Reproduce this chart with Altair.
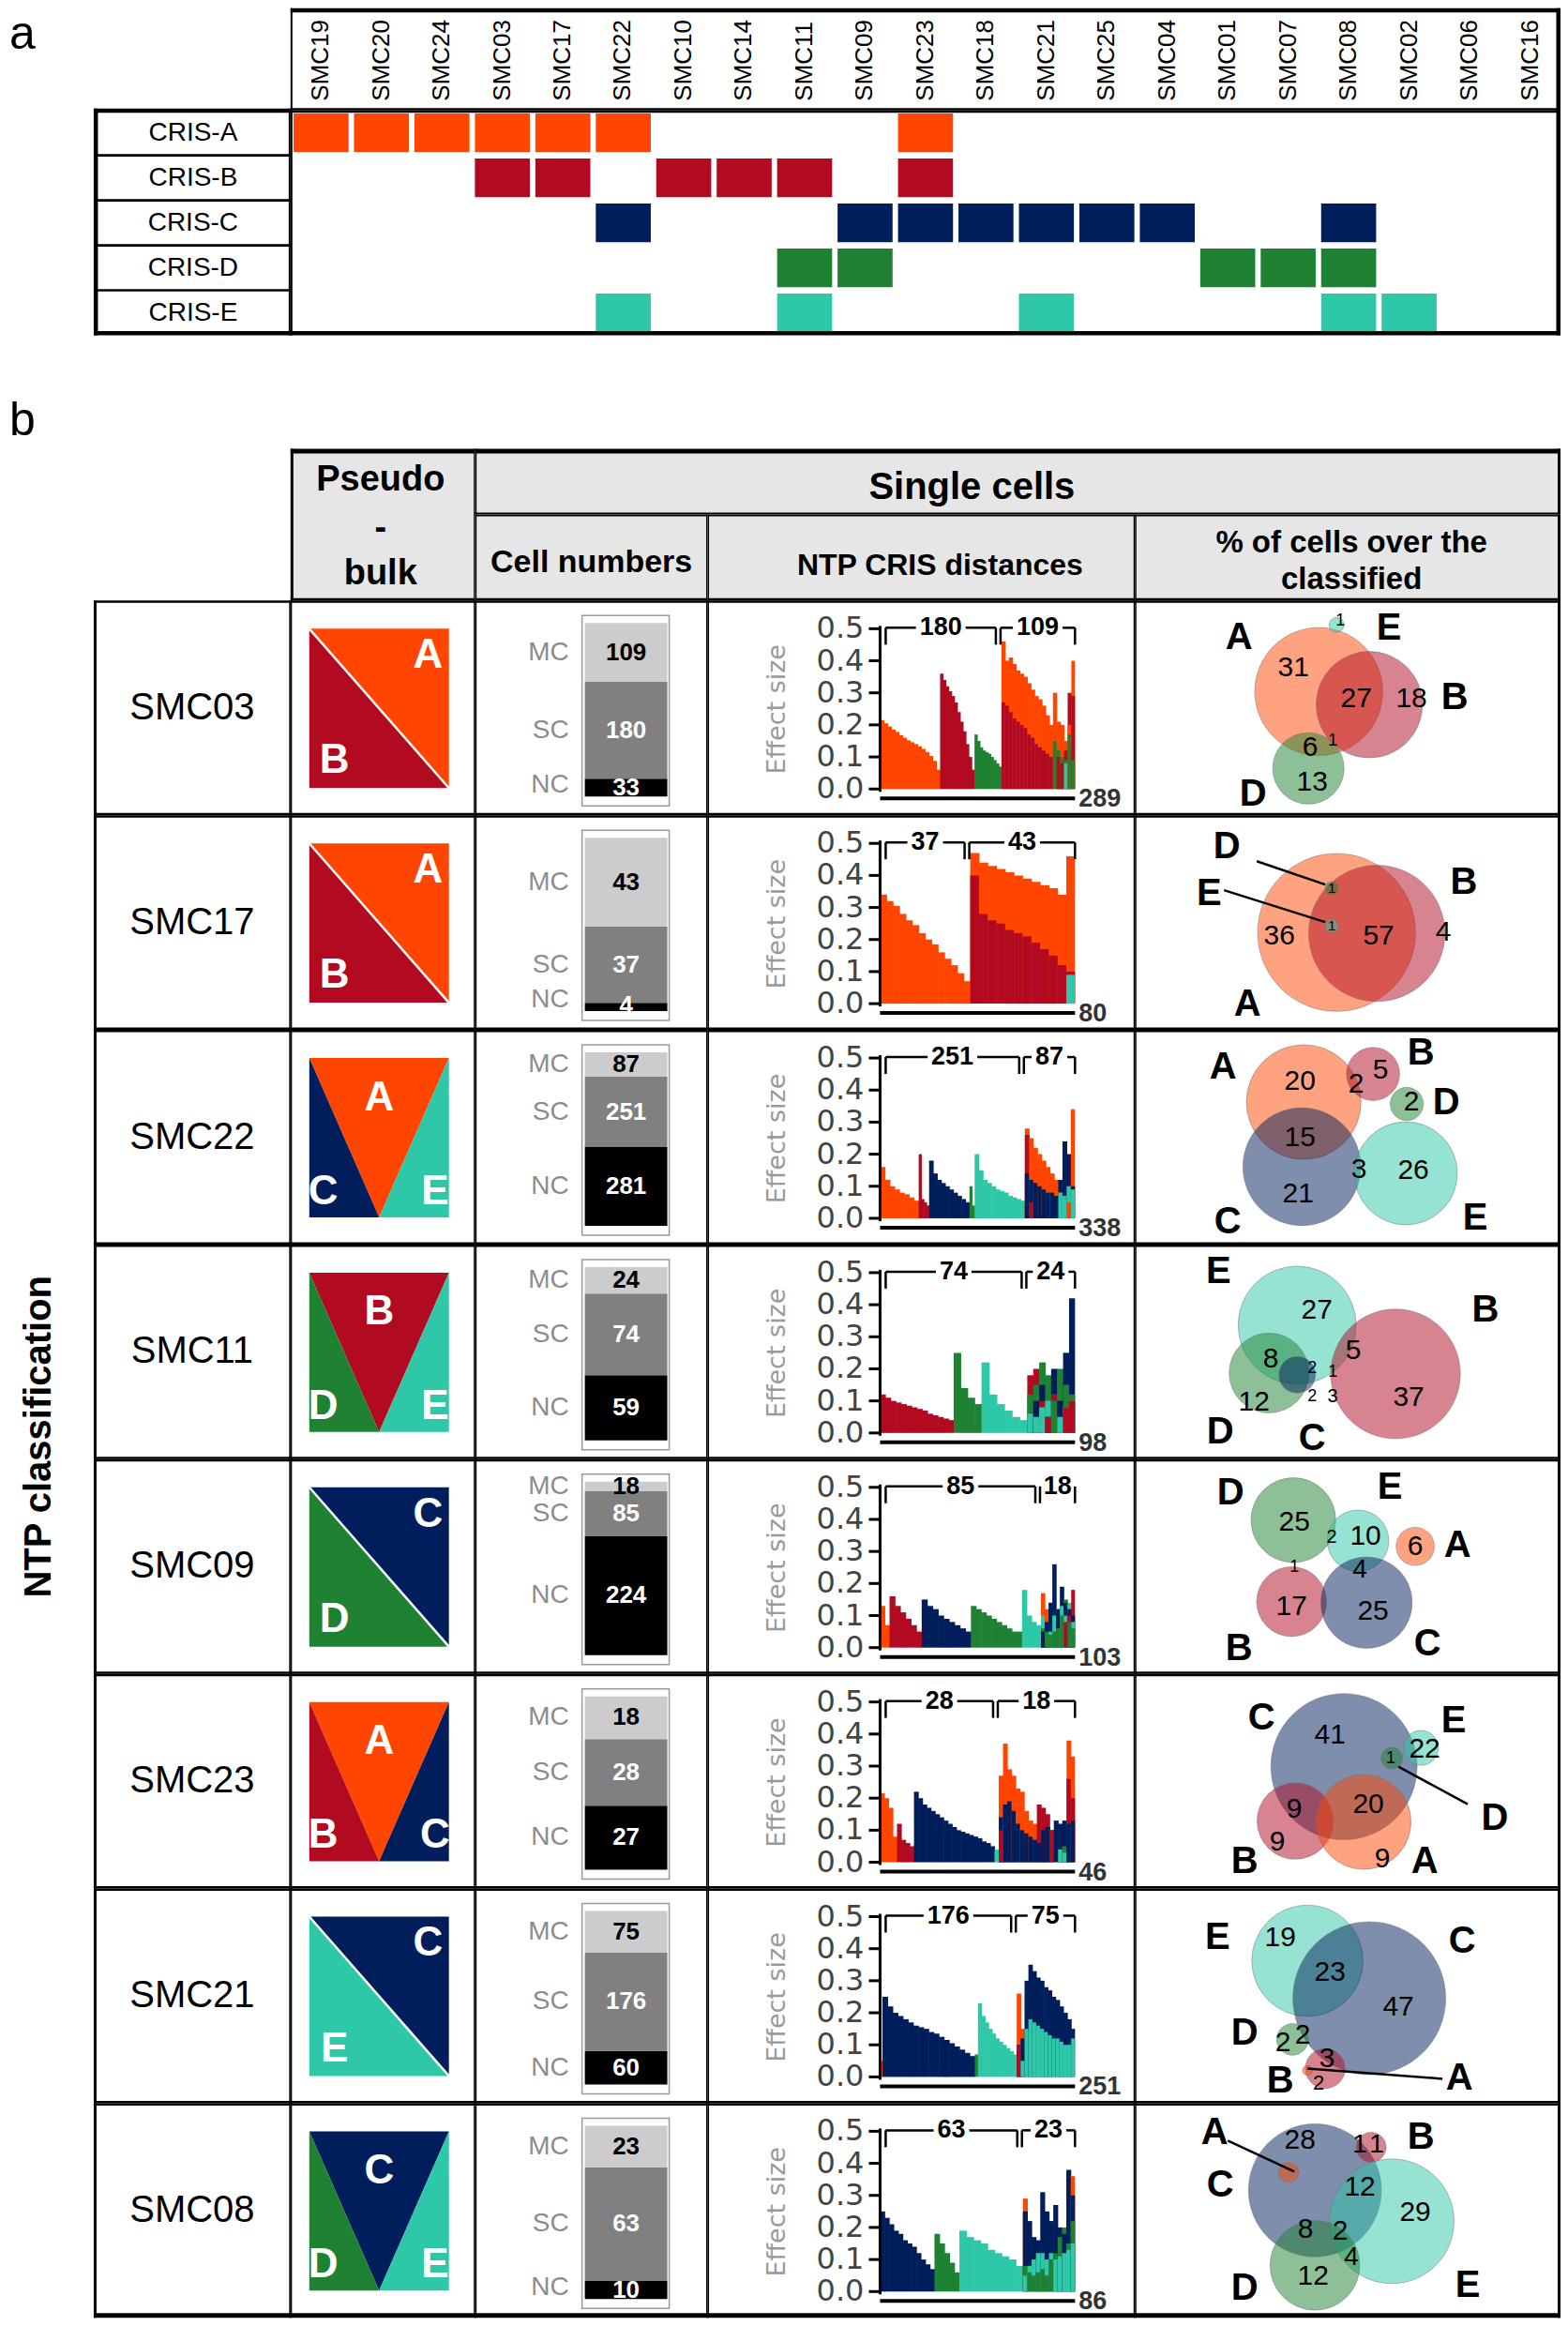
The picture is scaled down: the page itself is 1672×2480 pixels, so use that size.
import math
import altair as alt
import pandas as pd

FONT = "Liberation Sans"
WIDE_FONT = "DejaVu Sans"
CLASSES = ["A", "B", "C", "D", "E"]

BAR_COLORS = ["#FF2A00", "#A3001E", "#03164E", "#1B7A2A", "#1FC29C"]
HEAT_COLORS = ["#FF4500", "#B10A21", "#001E5B", "#1E8232", "#2EC8A8"]
PB_COLORS = ["#FF2A00", "#A0001B", "#031A50", "#1D7A2E", "#2EC8A4"]
VENN_COLORS = ["#F42C12", "#A0001B", "#02185A", "#1D7A2E", "#2EC8A4"]
HEADER_FILL = "#E6E6E6"

# ---------------- panel a data ----------------
SAMPLES_A = ["SMC19", "SMC20", "SMC24", "SMC03", "SMC17", "SMC22", "SMC10", "SMC14",
             "SMC11", "SMC09", "SMC23", "SMC18", "SMC21", "SMC25", "SMC04", "SMC01",
             "SMC07", "SMC08", "SMC02", "SMC06", "SMC16"]
CRIS_ROWS = ["CRIS-A", "CRIS-B", "CRIS-C", "CRIS-D", "CRIS-E"]
CRIS_A_SAMPLES = ["SMC19", "SMC20", "SMC24", "SMC03", "SMC17", "SMC22", "SMC23"]
CRIS_B_SAMPLES = ["SMC03", "SMC17", "SMC10", "SMC14", "SMC11", "SMC23"]
CRIS_C_SAMPLES = ["SMC22", "SMC09", "SMC23", "SMC18", "SMC21", "SMC25", "SMC04", "SMC08"]
CRIS_D_SAMPLES = ["SMC11", "SMC09", "SMC01", "SMC07", "SMC08"]
CRIS_E_SAMPLES = ["SMC22", "SMC11", "SMC21", "SMC08", "SMC02"]

# ---------------- panel b data ----------------
SAMPLES_B = ["SMC03", "SMC17", "SMC22", "SMC11", "SMC09", "SMC23", "SMC21", "SMC08"]
PSEUDO_BULK = [["A", "B"], ["A", "B"], ["A", "C", "E"], ["B", "D", "E"],
               ["C", "D"], ["A", "B", "C"], ["C", "E"], ["C", "D", "E"]]
CELLS_MC = [109, 43, 87, 24, 18, 18, 75, 23]
CELLS_SC = [180, 37, 251, 74, 85, 28, 176, 63]
CELLS_NC = [33, 4, 281, 59, 224, 27, 60, 10]

# effect sizes: single-class segments (class, number of cells, values read along the segment)
EFF_SC_SMC03 = [("A", 89, [0.215, 0.205, 0.195, 0.185, 0.178, 0.168, 0.16, 0.152, 0.146, 0.14, 0.133, 0.125, 0.115, 0.103, 0.088, 0.06]),
                ("B", 51, [0.36, 0.34, 0.32, 0.305, 0.29, 0.27, 0.24, 0.21, 0.18, 0.14, 0.10, 0.06]),
                ("D", 40, [0.17, 0.15, 0.13, 0.12, 0.115, 0.11, 0.10, 0.09, 0.08, 0.07])]
EFF_MC_SMC03 = [("A", [0.46, 0.40, 0.41, 0.39, 0.37, 0.36, 0.35, 0.33, 0.31, 0.29, 0.28, 0.26, 0.23, 0.20, 0.30, 0.21, 0.20, 0.15, 0.20, 0.40]),
                ("B", [0.27, 0.26, 0.24, 0.22, 0.21, 0.20, 0.19, 0.17, 0.16, 0.14, 0.13, 0.12, 0.11, 0.10, 0.0, 0.10, 0.08, 0.12, 0.30, 0.29]),
                ("D", [0, 0, 0, 0, 0, 0, 0, 0, 0, 0, 0, 0, 0, 0, 0.15, 0.12, 0.10, 0.09, 0.17, 0.09]),
                ("E", [0, 0, 0, 0, 0, 0, 0, 0, 0, 0, 0, 0, 0, 0, 0, 0, 0, 0.08, 0, 0])]

EFF_SC_SMC17 = [("A", 37, [0.34, 0.32, 0.305, 0.28, 0.26, 0.245, 0.22, 0.20, 0.185, 0.16, 0.14, 0.12, 0.095, 0.07])]
EFF_MC_SMC17 = [("A", [0.47, 0.44, 0.43, 0.42, 0.41, 0.40, 0.39, 0.38, 0.37, 0.36, 0.34, 0.46]),
                ("B", [0.40, 0.28, 0.26, 0.25, 0.23, 0.22, 0.21, 0.19, 0.17, 0.15, 0.12, 0.10]),
                ("E", [0, 0, 0, 0, 0, 0, 0, 0, 0, 0, 0, 0.09])]

EFF_SC_SMC22 = [("A", 67, [0.16, 0.12, 0.10, 0.09, 0.08, 0.075, 0.065, 0.055]),
                ("B", 18, [0.20, 0.06, 0.05, 0.04]),
                ("C", 70, [0.18, 0.14, 0.12, 0.11, 0.10, 0.09, 0.08, 0.07, 0.06, 0.05]),
                ("D", 9, [0.10, 0.04]),
                ("E", 87, [0.20, 0.15, 0.12, 0.11, 0.10, 0.09, 0.085, 0.08, 0.07, 0.065, 0.06, 0.055])]
EFF_MC_SMC22 = [("A", [0.28, 0.25, 0.22, 0.20, 0.18, 0.16, 0.14, 0.12, 0.0, 0.0, 0.05, 0.34]),
                ("B", [0.26, 0.05, 0, 0, 0, 0, 0, 0, 0, 0, 0, 0]),
                ("C", [0.14, 0.12, 0.11, 0.10, 0.09, 0.08, 0.08, 0.07, 0.12, 0.24, 0.20, 0.10]),
                ("E", [0, 0, 0, 0, 0, 0, 0, 0, 0.08, 0.07, 0.10, 0.09])]

EFF_SC_SMC11 = [("B", 37, [0.12, 0.11, 0.10, 0.095, 0.09, 0.085, 0.08, 0.075, 0.07, 0.06, 0.055, 0.05, 0.045, 0.04]),
                ("D", 14, [0.25, 0.14, 0.11, 0.09]),
                ("E", 23, [0.22, 0.12, 0.09, 0.07, 0.05, 0.04])]
EFF_MC_SMC11 = [("B", [0.18, 0.20, 0.10, 0.05, 0.12, 0.0, 0.08, 0.10]),
                ("D", [0.12, 0.15, 0.22, 0.18, 0.10, 0.20, 0.15, 0.12]),
                ("C", [0, 0.10, 0.15, 0.05, 0.20, 0.10, 0.25, 0.42]),
                ("E", [0.06, 0.05, 0.08, 0.10, 0.12, 0.05, 0.08, 0.10])]

EFF_SC_SMC09 = [("A", 5, [0.13, 0.07]),
                ("B", 17, [0.16, 0.13, 0.11, 0.09, 0.07, 0.05]),
                ("C", 26, [0.15, 0.13, 0.12, 0.10, 0.09, 0.08, 0.07, 0.06, 0.05]),
                ("D", 27, [0.13, 0.12, 0.11, 0.10, 0.09, 0.08, 0.07, 0.06, 0.05, 0.05]),
                ("E", 10, [0.18, 0.10, 0.08, 0.07])]
EFF_MC_SMC09 = [("A", [0.17, 0.12, 0, 0, 0, 0, 0, 0, 0]),
                ("C", [0.05, 0.08, 0.14, 0.26, 0.12, 0.19, 0.14, 0.12, 0.10]),
                ("E", [0.10, 0.08, 0.05, 0.10, 0.12, 0.13, 0.10, 0.14, 0.08]),
                ("D", [0.06, 0.05, 0.04, 0.05, 0.06, 0.10, 0.15, 0.08, 0.06]),
                ("B", [0, 0, 0, 0, 0, 0, 0.08, 0.10, 0.18])]

EFF_SC_SMC23 = [("A", 4, [0.215, 0.20, 0.17, 0.08]),
                ("B", 4, [0.12, 0.07, 0.06, 0.05]),
                ("C", 19, [0.22, 0.20, 0.18, 0.17, 0.16, 0.15, 0.14, 0.13, 0.12, 0.11, 0.10, 0.095, 0.09, 0.085, 0.08, 0.075, 0.065, 0.06, 0.05]),
                ("E", 1, [0.04])]
EFF_MC_SMC23 = [("A", [0.27, 0.37, 0.29, 0.27, 0.23, 0.22, 0.16, 0.13, 0.12, 0, 0, 0, 0, 0, 0, 0, 0.38, 0.33]),
                ("C", [0.14, 0.18, 0.19, 0.16, 0.12, 0.10, 0.09, 0.08, 0.07, 0.06, 0.10, 0.11, 0.10, 0.13, 0.12, 0.13, 0.12, 0.13]),
                ("B", [0.10, 0, 0, 0, 0, 0, 0, 0, 0, 0.18, 0.17, 0.15, 0.10, 0, 0, 0, 0.26, 0.20]),
                ("E", [0, 0, 0, 0, 0, 0, 0, 0, 0, 0, 0, 0, 0, 0, 0.04, 0.03, 0, 0]),
                ("D", [0, 0, 0, 0, 0, 0, 0, 0, 0, 0, 0, 0, 0, 0, 0, 0.05, 0, 0])]

EFF_SC_SMC21 = [("A", 3, [0.05]),
                ("C", 119, [0.25, 0.22, 0.20, 0.19, 0.18, 0.17, 0.16, 0.155, 0.15, 0.14, 0.135, 0.125, 0.115, 0.105, 0.095, 0.085, 0.075, 0.065]),
                ("D", 4, [0.07]),
                ("E", 50, [0.23, 0.19, 0.17, 0.15, 0.135, 0.12, 0.11, 0.10, 0.09, 0.08, 0.07])]
EFF_MC_SMC21 = [("C", [0.10, 0.12, 0.30, 0.35, 0.33, 0.31, 0.30, 0.28, 0.27, 0.25, 0.24, 0.22, 0.20, 0.18, 0.15]),
                ("E", [0.0, 0.05, 0.15, 0.18, 0.17, 0.16, 0.15, 0.14, 0.13, 0.12, 0.12, 0.11, 0.10, 0.10, 0.12]),
                ("A", [0.26, 0.15, 0, 0, 0, 0, 0, 0, 0, 0, 0, 0, 0, 0, 0]),
                ("B", [0.10, 0, 0, 0, 0, 0, 0, 0, 0, 0, 0, 0, 0, 0, 0])]

EFF_SC_SMC08 = [("C", 24, [0.25, 0.23, 0.21, 0.19, 0.18, 0.16, 0.15, 0.14, 0.12, 0.10, 0.085, 0.07]),
                ("D", 11, [0.18, 0.15, 0.12, 0.09, 0.06]),
                ("E", 28, [0.19, 0.17, 0.16, 0.15, 0.13, 0.12, 0.11, 0.10, 0.08])]
EFF_MC_SMC08 = [("C", [0.25, 0.22, 0.17, 0.16, 0.31, 0.25, 0.22, 0.27, 0.20, 0.18, 0.38, 0.30]),
                ("E", [0.05, 0.08, 0.10, 0.12, 0.12, 0.10, 0.12, 0.10, 0.11, 0.12, 0.13, 0.15]),
                ("D", [0.08, 0.06, 0.05, 0.06, 0.07, 0.05, 0.10, 0.12, 0.17, 0.20, 0.15, 0.22]),
                ("A", [0.29, 0, 0, 0, 0, 0, 0, 0, 0, 0, 0, 0.36])]

EFF_SC = [EFF_SC_SMC03, EFF_SC_SMC17, EFF_SC_SMC22, EFF_SC_SMC11,
          EFF_SC_SMC09, EFF_SC_SMC23, EFF_SC_SMC21, EFF_SC_SMC08]
EFF_MC = [EFF_MC_SMC03, EFF_MC_SMC17, EFF_MC_SMC22, EFF_MC_SMC11,
          EFF_MC_SMC09, EFF_MC_SMC23, EFF_MC_SMC21, EFF_MC_SMC08]

# Venn: numbers shown in each region
VENN_NUMBERS = {
    "SMC03": [31, 27, 18, 6, 1, 13, 1],
    "SMC17": [36, 57, 4, 1, 1],
    "SMC22": [20, 2, 5, 2, 15, 3, 26, 21],
    "SMC11": [27, 5, 37, 8, 12, 2, 1, 2, 3],
    "SMC09": [25, 2, 10, 6, 1, 4, 17, 25],
    "SMC23": [41, 22, 1, 9, 20, 9, 9],
    "SMC21": [19, 23, 47, 2, 2, 3, 2],
    "SMC08": [28, 1, 1, 12, 29, 8, 2, 4, 12],
}

# ---------------- layout (pixel geometry) ----------------
VENN_CIRCLES = {
    "SMC03": [("A", 196, 97, 77), ("B", 250, 111, 64), ("D", 185, 179, 43), ("E", 215, 26, 9)],
    "SMC17": [("A", 215, 125, 95), ("B", 258, 126, 82), ("D", 210, 78, 8), ("E", 210, 118, 8)],
    "SMC22": [("A", 180, 77, 69), ("C", 178, 146, 71), ("B", 254, 47, 32), ("D", 290, 79, 20), ("E", 289, 153, 62)],
    "SMC11": [("E", 173, 86, 71), ("B", 278, 138, 78), ("D", 143, 137, 48), ("C", 173, 139, 22)],
    "SMC09": [("D", 169, 65, 51), ("E", 238, 87, 37), ("A", 299, 93, 23), ("B", 167, 152, 42), ("C", 247, 153, 55)],
    "SMC23": [("C", 223, 99, 88), ("E", 305, 79, 21), ("D", 274, 90, 13), ("B", 171, 157, 46), ("A", 244, 158, 57)],
    "SMC21": [("E", 184, 77, 67), ("C", 250, 117, 92), ("D", 168, 161, 19), ("B", 203, 192, 24), ("A", 184, 194, 6)],
    "SMC08": [("C", 192, 93, 80), ("B", 252, 47, 18), ("E", 274, 126, 75), ("D", 192, 173, 54), ("A", 164, 74, 12)],
}
VENN_NUMBER_POS = {
    "SMC03": [(169, 72, 30), (236, 105, 30), (295, 105, 30), (187, 157, 30), (211, 150, 18), (189, 194, 30), (219, 22, 18)],
    "SMC17": [(154, 129, 30), (260, 129, 30), (329, 125, 30), (210, 78, 15), (210, 118, 15)],
    "SMC22": [(176, 55, 30), (236, 58, 30), (262, 43, 30), (295, 77, 30), (176, 115, 30), (239, 149, 30), (297, 150, 30), (174, 175, 30)],
    "SMC11": [(194, 70, 30), (233, 113, 30), (292, 163, 30), (145, 122, 30), (127, 168, 30), (189, 132, 18), (211, 136, 18), (189, 162, 18), (211, 162, 20)],
    "SMC09": [(170, 67, 30), (210, 83, 20), (246, 82, 30), (299, 93, 30), (170, 115, 18), (240, 118, 28), (167, 157, 30), (254, 162, 30)],
    "SMC23": [(208, 65, 30), (309, 80, 30), (273, 90, 18), (170, 144, 30), (249, 139, 30), (152, 179, 30), (264, 197, 30)],
    "SMC21": [(155, 53, 30), (208, 90, 30), (281, 127, 30), (158, 165, 30), (179, 157, 30), (205, 182, 30), (196, 208, 22)],
    "SMC08": [(176, 40, 30), (240, 45, 28), (258, 45, 28), (240, 90, 30), (299, 117, 30), (182, 135, 30), (219, 137, 30), (231, 165, 28), (190, 185, 30)],
}
VENN_LABEL_POS = {
    "SMC03": [("A", 111, 40), ("E", 271, 30), ("B", 341, 104), ("D", 126, 207)],
    "SMC17": [("D", 98, 34), ("E", 79, 84), ("B", 351, 72), ("A", 120, 202)],
    "SMC22": [("A", 94, 40), ("B", 305, 25), ("D", 332, 78), ("C", 99, 205), ("E", 363, 201)],
    "SMC11": [("E", 89, 29), ("B", 374, 70), ("D", 91, 200), ("C", 189, 207)],
    "SMC09": [("D", 102, 36), ("E", 272, 30), ("A", 344, 92), ("B", 111, 202), ("C", 312, 197)],
    "SMC23": [("C", 135, 47), ("E", 340, 50), ("D", 384, 154), ("B", 117, 200), ("A", 309, 200)],
    "SMC21": [("E", 88, 53), ("C", 349, 57), ("D", 117, 155), ("B", 155, 206), ("A", 346, 203)],
    "SMC08": [("A", 85, 32), ("B", 305, 37), ("C", 91, 88), ("D", 117, 198), ("E", 355, 195)],
}
VENN_LEADERS = {
    "SMC17": [(130, 49, 203, 74), (95, 80, 203, 114)],
    "SMC23": [(281, 99, 355, 139)],
    "SMC21": [(184, 192, 328, 203)],
    "SMC08": [(99, 40, 170, 73)],
}

LEFT_W, NAME_W, PB_W, CN_W, EFF_W, VENN_W = 92, 210, 197, 248, 456, 454
ROW_H = 229
A_HDR_H, A_ROWS_H = 109, 240
HEAT_W = 1355
GAP_H = 121
B_HDR1_H, B_HDR2_H = 70, 92


def sx(lo, hi):
    return alt.Scale(domain=[lo, hi], nice=False, zero=False)


def ident(v):
    return v


def texts(rows, xs, ys, **mk):
    df = pd.DataFrame(rows)
    props = dict(font=FONT)
    props.update(mk)
    enc = dict(x=alt.X("x:Q", scale=xs, axis=None), y=alt.Y("y:Q", scale=ys, axis=None),
               text=alt.Text("t:N"))
    if "fs" in df.columns:
        enc["size"] = alt.Size("fs:Q", scale=None, legend=None)
    return alt.Chart(df).mark_text(**props).encode(**enc)


def rules(rows, xs, ys, **mk):
    df = pd.DataFrame(rows)
    enc = dict(x=alt.X("x:Q", scale=xs, axis=None), y=alt.Y("y:Q", scale=ys, axis=None))
    if "x2" in df.columns:
        enc["x2"] = "x2:Q"
    if "y2" in df.columns:
        enc["y2"] = "y2:Q"
    return alt.Chart(df).mark_rule(**mk).encode(**enc)


def rects(rows, xs, ys, color_range=None, **mk):
    df = pd.DataFrame(rows)
    enc = dict(x=alt.X("x:Q", scale=xs, axis=None), x2="x2:Q",
               y=alt.Y("y:Q", scale=ys, axis=None), y2="y2:Q")
    if color_range is not None:
        enc["color"] = alt.Color("c:N", scale=alt.Scale(domain=CLASSES, range=color_range), legend=None)
    return alt.Chart(df).mark_rect(**mk).encode(**enc)


def border(W, H, t, xs, ys, fx=ident, fy=ident):
    """filled black strips along the inside edges of a cell: t = (top, right, bottom, left) px"""
    top, right, bottom, left = t
    rows = []
    if top:
        rows.append({"x": fx(0), "x2": fx(W), "y": fy(0), "y2": fy(top)})
    if bottom:
        rows.append({"x": fx(0), "x2": fx(W), "y": fy(H - bottom), "y2": fy(H)})
    if left:
        rows.append({"x": fx(0), "x2": fx(left), "y": fy(0), "y2": fy(H)})
    if right:
        rows.append({"x": fx(W - right), "x2": fx(W), "y": fy(0), "y2": fy(H)})
    return rects(rows, xs, ys, fill="black")


def blank(w, h):
    return alt.Chart(pd.DataFrame({"x": [0]})).mark_rect(opacity=0).encode(
        x=alt.value(0), x2=alt.value(w), y=alt.value(0), y2=alt.value(h)).properties(width=w, height=h)


# ---------------- panel a ----------------
def panel_a():
    W = LEFT_W + NAME_W
    H = A_HDR_H + A_ROWS_H
    xs, ys = sx(0, W), sx(H, 0)
    rh = A_ROWS_H / len(CRIS_ROWS)
    lines = [{"x": LEFT_W, "x2": W, "y": A_HDR_H - 2, "y2": A_HDR_H + 2.5},
             {"x": LEFT_W, "x2": W, "y": H - 4.5, "y2": H},
             {"x": LEFT_W, "x2": LEFT_W + 4.5, "y": A_HDR_H - 2, "y2": H},
             {"x": W - 2, "x2": W, "y": A_HDR_H - 2, "y2": H}]
    for i in range(1, len(CRIS_ROWS)):
        yy = A_HDR_H + i * rh
        lines.append({"x": LEFT_W, "x2": W, "y": yy - 1.3, "y2": yy + 1.3})
    left = alt.layer(
        rects(lines, xs, ys, fill="black"),
        texts([{"x": LEFT_W + NAME_W / 2 + 1, "y": A_HDR_H + (i + 0.5) * rh, "t": r}
               for i, r in enumerate(CRIS_ROWS)], xs, ys, fontSize=28, baseline="middle"),
        texts([{"x": 2, "y": 43, "t": "a"}], xs, ys, fontSize=50, align="left", baseline="alphabetic"),
    ).properties(width=W, height=H)

    xband = alt.Scale(domain=SAMPLES_A, paddingInner=0.09, paddingOuter=0.05)
    hxs, hys = sx(0, HEAT_W), sx(A_HDR_H, 0)
    hdr_text = alt.Chart(pd.DataFrame({"sample": SAMPLES_A})).mark_text(
        font=FONT, fontSize=26, angle=270, align="left", baseline="middle").encode(
        x=alt.X("sample:N", scale=xband, axis=None), y=alt.value(A_HDR_H - 10),
        text="sample:N")
    hdr = alt.layer(hdr_text, border(HEAT_W, A_HDR_H, (4.5, 4.5, 2.5, 2), hxs, hys)).resolve_scale(
        x="independent", y="independent").properties(width=HEAT_W, height=A_HDR_H)

    calls = []
    for cls, lst in zip(CLASSES, [CRIS_A_SAMPLES, CRIS_B_SAMPLES, CRIS_C_SAMPLES,
                                  CRIS_D_SAMPLES, CRIS_E_SAMPLES]):
        for s in lst:
            calls.append({"sample": s, "cris": "CRIS-" + cls, "c": cls})
    heat_rects = alt.Chart(pd.DataFrame(calls)).mark_rect().encode(
        x=alt.X("sample:N", scale=xband, axis=None),
        y=alt.Y("cris:N", scale=alt.Scale(domain=CRIS_ROWS, paddingInner=0.14, paddingOuter=0.07), axis=None),
        color=alt.Color("c:N", scale=alt.Scale(domain=CLASSES, range=HEAT_COLORS), legend=None))
    heat = alt.layer(heat_rects, border(HEAT_W, A_ROWS_H, (2.5, 4.5, 4.5, 2), sx(0, HEAT_W), sx(A_ROWS_H, 0))
                     ).resolve_scale(x="independent", y="independent").properties(width=HEAT_W, height=A_ROWS_H)

    right = alt.vconcat(hdr, heat, spacing=0)
    return alt.hconcat(left, right, spacing=0)


def gap_b():
    W = LEFT_W + NAME_W + PB_W + CN_W + EFF_W + VENN_W
    xs, ys = sx(0, W), sx(GAP_H, 0)
    return texts([{"x": 2, "y": GAP_H - 14, "t": "b"}], xs, ys, fontSize=50,
                 align="left", baseline="alphabetic").properties(width=W, height=GAP_H)


# ---------------- panel b header ----------------
def header_b():
    H = B_HDR1_H + B_HDR2_H
    xs, ys = sx(0, PB_W), sx(H, 0)
    pb = alt.layer(
        texts([{"x": 96, "y": 45, "t": "Pseudo"}, {"x": 96, "y": 97, "t": "-"},
               {"x": 96, "y": 145, "t": "bulk"}], xs, ys, fontSize=38, fontWeight="bold",
              baseline="alphabetic"),
        border(PB_W, H, (5, 1.5, 2.5, 3), xs, ys),
    ).properties(width=PB_W, height=H, view=alt.ViewBackground(fill=HEADER_FILL, strokeWidth=0))
    SW = CN_W + EFF_W + VENN_W
    s_xs, s_ys = sx(0, SW), sx(B_HDR1_H, 0)
    single = alt.layer(
        texts([{"x": 530, "y": 54, "t": "Single cells"}], s_xs, s_ys,
              fontSize=40, fontWeight="bold", baseline="alphabetic"),
        border(SW, B_HDR1_H, (5, 3, 2, 1.5), s_xs, s_ys),
    ).properties(width=SW, height=B_HDR1_H, view=alt.ViewBackground(fill=HEADER_FILL, strokeWidth=0))
    h2 = sx(B_HDR2_H, 0)

    def sub(w, lines, right_t, fs):
        xs2 = sx(0, w)
        return alt.layer(
            texts(lines, xs2, h2, fontSize=fs, fontWeight="bold", baseline="alphabetic"),
            border(w, B_HDR2_H, (2, right_t, 2.5, 1.5), xs2, h2),
        ).properties(width=w, height=B_HDR2_H, view=alt.ViewBackground(fill=HEADER_FILL, strokeWidth=0))

    cn = sub(CN_W, [{"x": CN_W / 2, "y": 62, "t": "Cell numbers"}], 1.5, 34)
    ntp = sub(EFF_W, [{"x": 248, "y": 65, "t": "NTP CRIS distances"}], 1.5, 32)
    pct = sub(VENN_W, [{"x": 231, "y": 41, "t": "% of cells over the"},
                       {"x": 231, "y": 80, "t": "classified"}], 3, 33)
    subrow = alt.hconcat(cn, ntp, pct, spacing=0)
    block = alt.vconcat(single, subrow, spacing=0)
    return alt.hconcat(blank(LEFT_W + NAME_W, H), pb, block, spacing=0)


# ---------------- panel b cells ----------------
def name_cell(name, t):
    xs, ys = sx(0, NAME_W), sx(ROW_H, 0)
    return alt.layer(
        texts([{"x": NAME_W / 2, "y": ROW_H / 2, "t": name}], xs, ys, fontSize=40, baseline="middle"),
        border(NAME_W, ROW_H, t, xs, ys),
    ).properties(width=NAME_W, height=ROW_H)


def pseudo_cell(calls, t):
    xs, ys = sx(0, PB_W), sx(ROW_H, 0)
    x0, y0, x1, y1 = 20, 30, 169, 200

    def X(f):
        return x0 + f * (x1 - x0)

    def Y(f):
        return y0 + f * (y1 - y0)

    if len(calls) == 2:
        shapes = [(calls[0], [(0, 0, 0), (1, 0, 1)]), (calls[1], [(0, 0, 1), (1, 1, 1)])]
        labs = [(calls[0], 0.85, 0.17), (calls[1], 0.18, 0.83)]
        lines = [{"x": X(0), "y": Y(0), "x2": X(1), "y2": Y(1)}]
    else:
        shapes = [(calls[0], [(0, 0, 0), (0.5, 0, 1), (1, 0, 0)]),
                  (calls[1], [(0, 0, 1), (0.5, 1, 1)]),
                  (calls[2], [(0.5, 1, 1), (1, 0, 1)])]
        labs = [(calls[0], 0.5, 0.25), (calls[1], 0.1, 0.84), (calls[2], 0.9, 0.84)]
        lines = []
    rows = []
    for cls, pts in shapes:
        for fx, ft, fb in pts:
            rows.append({"x": X(fx), "y": Y(ft), "y2": Y(fb), "c": cls})
    area = alt.Chart(pd.DataFrame(rows)).mark_area(interpolate="linear", opacity=1).encode(
        x=alt.X("x:Q", scale=xs, axis=None),
        y=alt.Y("y:Q", scale=ys, axis=None, stack=None), y2="y2:Q",
        color=alt.Color("c:N", scale=alt.Scale(domain=CLASSES, range=PB_COLORS), legend=None),
        detail="c:N")
    layers = [area]
    if lines:
        layers.append(rules(lines, xs, ys, color="white", strokeWidth=2.5))
    layers.append(texts([{"x": X(fx), "y": Y(fy), "t": c} for c, fx, fy in labs], xs, ys,
                        fontSize=44, fontWeight="bold", color="white", baseline="middle"))
    layers.append(border(PB_W, ROW_H, t, xs, ys))
    return alt.layer(*layers).properties(width=PB_W, height=ROW_H)


def cellnum_cell(mc, sc, nc, t):
    bx0, bx1, btop, bbot = 117, 205, 24, 209
    span = bbot - btop

    def fr(py):
        return (bbot - py) / span

    xs, ys = sx(0, CN_W), sx(fr(ROW_H), fr(0))
    tot = mc + sc + nc
    f_nc, f_sc = nc / tot, (nc + sc) / tot
    segs = [(0, f_nc, "#000000"), (f_nc, f_sc, "#808080"), (f_sc, 1.0, "#CCCCCC")]
    bar_rows = [{"x": bx0, "x2": bx1, "y": a, "y2": b, "k": col} for a, b, col in segs]
    bars = alt.Chart(pd.DataFrame(bar_rows)).mark_rect().encode(
        x=alt.X("x:Q", scale=xs, axis=None), x2="x2:Q",
        y=alt.Y("y:Q", scale=ys, axis=None), y2="y2:Q",
        color=alt.Color("k:N", scale=None))
    frame = rects([{"x": bx0 - 3, "x2": bx1 + 2, "y": fr(bbot + 10), "y2": fr(btop - 8)}], xs, ys,
                  fill="transparent", stroke="#9A9A9A", strokeWidth=1.5)
    min_off = 12 / span
    c_nc = max(f_nc / 2, min_off)
    c_sc = (f_nc + f_sc) / 2
    c_mc = (f_sc + 1) / 2
    side = texts([{"x": 100, "y": c_mc, "t": "MC"}, {"x": 100, "y": c_sc, "t": "SC"},
                  {"x": 100, "y": c_nc, "t": "NC"}], xs, ys, fontSize=28, color="#8C8C8C",
                 align="right", baseline="middle")
    cx = (bx0 + bx1) / 2
    counts_dark = texts([{"x": cx, "y": c_mc, "t": str(mc)}], xs, ys, fontSize=26,
                        fontWeight="bold", color="black", baseline="middle")
    counts_light = texts([{"x": cx, "y": c_sc, "t": str(sc)},
                          {"x": cx, "y": max(f_nc / 2, 6 / span), "t": str(nc)}],
                         xs, ys, fontSize=26, fontWeight="bold", color="white", baseline="middle")
    return alt.layer(frame, bars, side, counts_dark, counts_light,
                     border(CN_W, ROW_H, t, xs, ys, ident, fr)).properties(width=CN_W, height=ROW_H)


def effect_cell(n, sc, sc_segments, mc_layers, t):
    PL, PR, ZY, HY = 184, 392, 201, 30
    per_px = n / (PR - PL)
    ky = 0.5 / (ZY - HY)
    ov = 0.6 * per_px  # sub-pixel overlap so adjacent bars show no seam

    def ux(px):
        return (px - PL) * per_px

    def uy(py):
        return (ZY - py) * ky

    xs, ys = sx(ux(0), ux(EFF_W)), sx(uy(ROW_H), uy(0))
    bars = []
    pos = 0.0
    for cls, cnt, vals in sc_segments:
        w = cnt / len(vals)
        for k, v in enumerate(vals):
            x2 = min(pos + (k + 1) * w + ov, float(n))
            bars.append({"x": pos + k * w, "x2": x2, "y": 0.0, "y2": v, "c": cls})
        pos += cnt
    m = len(mc_layers[0][1])
    w = (n - sc) / m
    for k in range(m):
        stack = sorted([(vals[k], cls) for cls, vals in mc_layers if vals[k] > 0], reverse=True)
        for v, cls in stack:
            x2 = min(sc + (k + 1) * w + ov, float(n))
            bars.append({"x": sc + k * w, "x2": x2, "y": 0.0, "y2": v, "c": cls})
    bar_layer = rects(bars, xs, ys, color_range=BAR_COLORS)

    ticks = [0.0, 0.1, 0.2, 0.3, 0.4, 0.5]
    yaxis = rules([{"x": 0.0, "y": uy(ZY + 3), "y2": uy(HY - 3)}], xs, ys, color="black", strokeWidth=3)
    tks = rules([{"x": ux(PL - 12), "x2": 0.0, "y": v} for v in ticks], xs, ys, color="black", strokeWidth=3)
    tlab = texts([{"x": ux(PL - 17), "y": v, "t": f"{v:.1f}"} for v in ticks], xs, ys,
                 font=WIDE_FONT, fontSize=32, color="#444444", align="right", baseline="middle")
    title = texts([{"x": ux(75), "y": uy(116), "t": "Effect size"}], xs, ys, font=WIDE_FONT,
                  fontSize=27, color="#9A9A9A", angle=270, baseline="middle")
    xaxis = rules([{"x": 0.0, "x2": float(n), "y": uy(211)}], xs, ys, color="black", strokeWidth=4)
    nlab = texts([{"x": ux(PR + 4), "y": uy(212), "t": str(n)}], xs, ys, fontSize=27,
                 fontWeight="bold", color="#333333", align="left", baseline="middle")

    sc_px = PL + sc / per_px
    brs = [(PL + 6, sc_px - 6, sc), (sc_px - 1, PR, n - sc)]
    ly, ty = uy(HY - 1), uy(HY + 17)
    segs, vt, labs = [], [], []
    for a, b, val in brs:
        c = (a + b) / 2
        hw = len(str(val)) * 0.556 * 27 / 2 + 4
        if c - hw > a:
            segs.append({"x": ux(a), "x2": ux(c - hw), "y": ly})
        if b > c + hw:
            segs.append({"x": ux(c + hw), "x2": ux(b), "y": ly})
        vt += [{"x": ux(a), "y": ly, "y2": ty}, {"x": ux(b), "y": ly, "y2": ty}]
        labs.append({"x": ux(c), "y": ly, "t": str(val)})
    br1 = rules(segs, xs, ys, color="black", strokeWidth=2.5)
    br2 = rules(vt, xs, ys, color="black", strokeWidth=2.5)
    br3 = texts(labs, xs, ys, fontSize=27, fontWeight="bold", color="black", baseline="middle")
    return alt.layer(bar_layer, yaxis, tks, tlab, title, xaxis, nlab, br1, br2, br3,
                     border(EFF_W, ROW_H, t, xs, ys, ux, uy)).properties(width=EFF_W, height=ROW_H)


def venn_cell(sample, t):
    xs, ys = sx(0, VENN_W), sx(ROW_H, 0)
    cdf = pd.DataFrame([{"x": cx, "y": cy, "s": math.pi * r * r, "c": c}
                        for c, cx, cy, r in VENN_CIRCLES[sample]])
    circ = alt.Chart(cdf).mark_circle(opacity=1, fillOpacity=0.5, stroke="#6F6F6F",
                                      strokeWidth=0.8, strokeOpacity=0.6).encode(
        x=alt.X("x:Q", scale=xs, axis=None), y=alt.Y("y:Q", scale=ys, axis=None),
        size=alt.Size("s:Q", scale=None, legend=None),
        color=alt.Color("c:N", scale=alt.Scale(domain=CLASSES, range=VENN_COLORS), legend=None))
    layers = [circ]
    if sample in VENN_LEADERS:
        layers.append(rules([{"x": a, "y": b, "x2": c, "y2": d} for a, b, c, d in VENN_LEADERS[sample]],
                            xs, ys, color="black", strokeWidth=2.5))
    nums = [{"x": x, "y": y, "fs": fs, "t": str(v)}
            for v, (x, y, fs) in zip(VENN_NUMBERS[sample], VENN_NUMBER_POS[sample])]
    layers.append(texts(nums, xs, ys, color="black", baseline="middle"))
    layers.append(texts([{"x": x, "y": y, "t": c} for c, x, y in VENN_LABEL_POS[sample]], xs, ys,
                        fontSize=40, fontWeight="bold", color="black", baseline="middle"))
    layers.append(border(VENN_W, ROW_H, t, xs, ys))
    return alt.layer(*layers).properties(width=VENN_W, height=ROW_H)


def rows_b():
    rows = []
    last = len(SAMPLES_B) - 1
    for i, s in enumerate(SAMPLES_B):
        n = CELLS_SC[i] + CELLS_MC[i]
        bt = 5 if i == last else 2.5
        rows.append(alt.hconcat(
            name_cell(s, (2.5, 1.5, bt, 3)),
            pseudo_cell(PSEUDO_BULK[i], (2.5, 1.5, bt, 1.5)),
            cellnum_cell(CELLS_MC[i], CELLS_SC[i], CELLS_NC[i], (2.5, 1.5, bt, 1.5)),
            effect_cell(n, CELLS_SC[i], EFF_SC[i], EFF_MC[i], (2.5, 1.5, bt, 1.5)),
            venn_cell(s, (2.5, 3, bt, 1.5)), spacing=0))
    grid = alt.vconcat(*rows, spacing=0)
    H = ROW_H * len(SAMPLES_B)
    lab = texts([{"x": 34, "y": 892, "t": "NTP classification"}], sx(0, LEFT_W), sx(H, 0),
                fontSize=40, fontWeight="bold", angle=270, baseline="middle").properties(
        width=LEFT_W, height=H)
    return alt.hconcat(lab, grid, spacing=0)


chart = alt.vconcat(panel_a(), gap_b(), header_b(), rows_b(), spacing=0).properties(
    padding=0).configure_view(strokeWidth=0)

chart.save("out.html", embed_options={"renderer": "svg", "actions": False})
